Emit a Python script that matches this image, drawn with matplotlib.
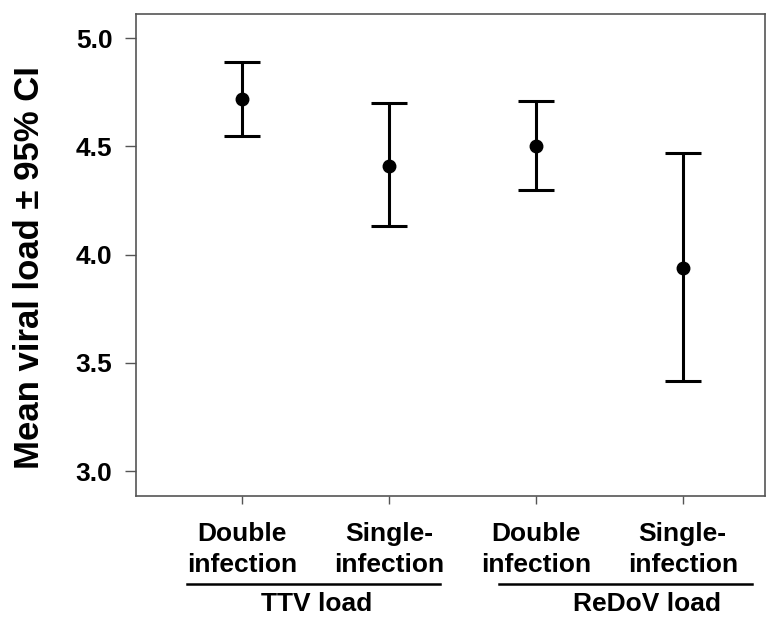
import matplotlib
matplotlib.use('Agg')
import matplotlib.pyplot as plt
import matplotlib.transforms as mtransforms

plt.rcParams['font.family'] = ['Liberation Sans', 'DejaVu Sans']
plt.rcParams['font.weight'] = 'bold'

# data
groups = ['Double\ninfection', 'Single-\ninfection', 'Double\ninfection', 'Single-\ninfection']
means = [4.72, 4.41, 4.50, 3.94]
ci_low = [4.55, 4.13, 4.30, 3.415]
ci_high = [4.89, 4.70, 4.71, 4.47]
group_names = ['TTV load', 'ReDoV load']

x = list(range(1, len(means) + 1))
err_lo = [m - l for m, l in zip(means, ci_low)]
err_hi = [h - m for m, h in zip(means, ci_high)]

fig = plt.figure(figsize=(7.78, 6.19), dpi=100)
ax = fig.add_axes([0.1748, 0.1992, 0.8085, 0.7782])

ax.errorbar(x, means, yerr=[err_lo, err_hi], fmt='o', color='black',
            ecolor='black', elinewidth=2.2, capsize=13, capthick=2.2,
            markersize=9)

ax.set_xlim(0.28, 4.56)
ax.set_ylim(2.886, 5.112)
ax.set_yticks([3.0, 3.5, 4.0, 4.5, 5.0])
ax.set_yticklabels(['3.0', '3.5', '4.0', '4.5', '5.0'], fontsize=19, fontweight='bold')
ax.set_xticks(x)
ax.set_xticklabels(groups, fontsize=19, fontweight='bold', linespacing=1.35)
ax.tick_params(axis='y', direction='out', length=8, width=1, color='#555555', pad=9)
ax.tick_params(axis='x', direction='out', length=6, width=1, color='#555555', pad=13)
for sp in ax.spines.values():
    sp.set_color('#555555')
    sp.set_linewidth(1.2)

ax.text(-0.17, 0.474, 'Mean viral load ± 95% CI', transform=ax.transAxes,
        rotation=90, ha='center', va='center', fontsize=25, fontweight='bold')

# group underlines and labels below tick labels
trans = mtransforms.blended_transform_factory(ax.transData, ax.transAxes)
spans = [(0.63, 2.35), (2.75, 4.47)]
label_x = [1.51, 3.76]
for (a, b), lx, name in zip(spans, label_x, group_names):
    ax.plot([a, b], [-0.183, -0.183], color='black', lw=1.8, transform=trans, clip_on=False)
    ax.text(lx, -0.25, name, transform=trans, ha='center', va='bottom',
            fontsize=19, fontweight='bold')

fig.savefig('out.png', dpi=100)
